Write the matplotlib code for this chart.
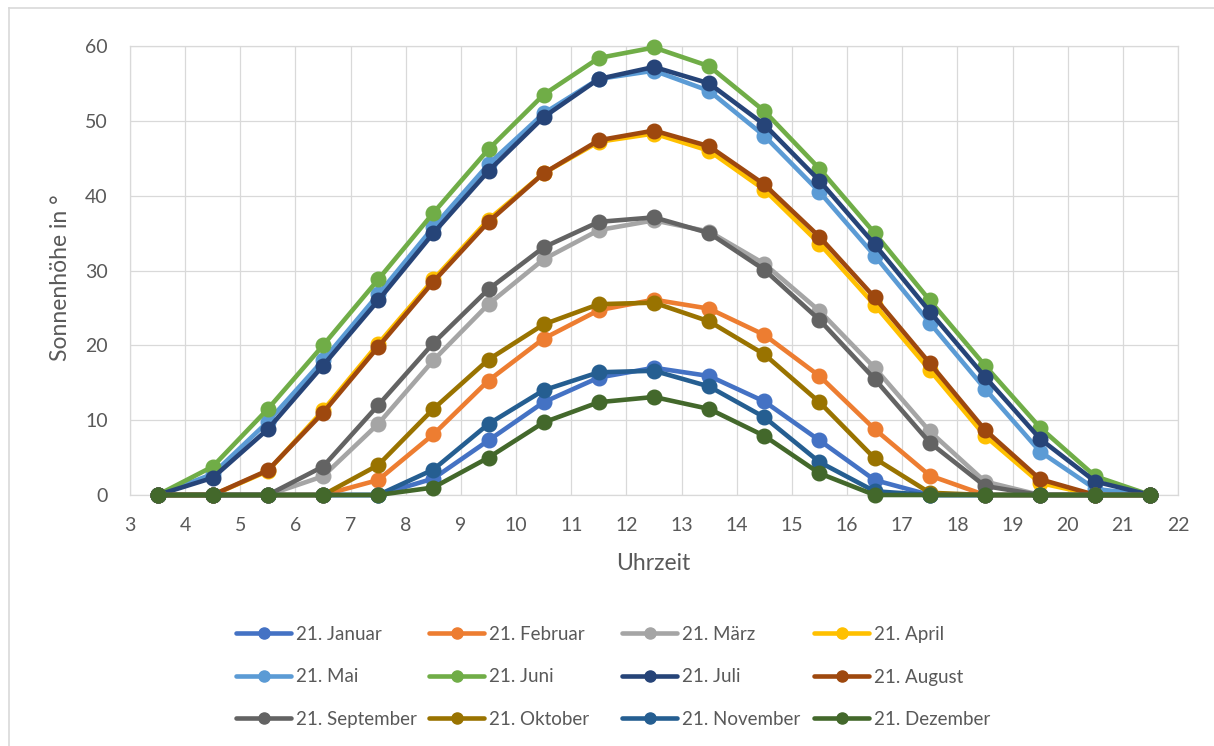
import matplotlib
matplotlib.use("Agg")
import matplotlib.pyplot as plt
from matplotlib.lines import Line2D

plt.rcParams['font.family'] = ['Lato', 'DejaVu Sans']

hours = [3.5, 4.5, 5.5, 6.5, 7.5, 8.5, 9.5, 10.5, 11.5, 12.5, 13.5, 14.5, 15.5, 16.5, 17.5, 18.5, 19.5, 20.5, 21.5]

januar    = [0, 0, 0, 0, 0, 2.2, 7.3, 12.4, 15.7, 17.0, 15.9, 12.5, 7.3, 2.0, 0, 0, 0, 0, 0]
februar   = [0, 0, 0, 0, 2.0, 8.1, 15.3, 20.9, 24.7, 26.1, 24.9, 21.4, 15.9, 8.8, 2.6, 0, 0, 0, 0]
maerz     = [0, 0, 0, 2.5, 9.5, 18.0, 25.5, 31.5, 35.4, 36.7, 35.2, 30.9, 24.6, 17.0, 8.5, 1.8, 0, 0, 0]
april     = [0, 0, 3.2, 11.3, 20.2, 28.8, 36.8, 43.0, 47.2, 48.3, 46.0, 40.8, 33.6, 25.4, 16.7, 7.9, 1.6, 0, 0]
mai       = [0, 2.8, 9.8, 18.0, 26.8, 35.8, 44.2, 51.0, 55.6, 56.7, 54.0, 48.0, 40.5, 32.0, 23.0, 14.2, 5.8, 0.8, 0]
juni      = [0, 3.8, 11.5, 20.0, 28.8, 37.7, 46.2, 53.5, 58.4, 59.8, 57.3, 51.3, 43.6, 35.0, 26.0, 17.3, 9.0, 2.5, 0]
juli      = [0, 2.3, 8.8, 17.3, 26.0, 35.0, 43.3, 50.5, 55.6, 57.2, 55.0, 49.5, 42.0, 33.5, 24.5, 15.8, 7.5, 1.8, 0]
august    = [0, 0, 3.3, 11.0, 19.8, 28.5, 36.5, 43.0, 47.4, 48.7, 46.6, 41.5, 34.5, 26.4, 17.6, 8.7, 2.1, 0, 0]
september = [0, 0, 0, 3.8, 12.0, 20.3, 27.5, 33.1, 36.5, 37.1, 35.0, 30.1, 23.4, 15.5, 7.0, 1.2, 0, 0, 0]
oktober   = [0, 0, 0, 0, 4.0, 11.5, 18.1, 22.8, 25.5, 25.7, 23.2, 18.8, 12.4, 4.9, 0.3, 0, 0, 0, 0]
november  = [0, 0, 0, 0, 0, 3.4, 9.5, 14.0, 16.4, 16.6, 14.5, 10.4, 4.4, 0.5, 0, 0, 0, 0, 0]
dezember  = [0, 0, 0, 0, 0, 1.0, 5.0, 9.7, 12.4, 13.1, 11.5, 7.9, 2.9, 0, 0, 0, 0, 0, 0]

labels = ["21. Januar", "21. Februar", "21. März", "21. April", "21. Mai", "21. Juni",
          "21. Juli", "21. August", "21. September", "21. Oktober", "21. November", "21. Dezember"]
series = [januar, februar, maerz, april, mai, juni, juli, august, september, oktober, november, dezember]
colors = ["#4472C4", "#ED7D31", "#A5A5A5", "#FFC000", "#5B9BD5", "#70AD47",
          "#264478", "#9E480E", "#636363", "#997300", "#255E91", "#43682B"]

W, H = 1214, 746
fig = plt.figure(figsize=(W / 100, H / 100), dpi=100)
ax = fig.add_axes([130 / W, 1 - 495 / H, 1048 / W, 449 / H])

for vals, lab, col in zip(series, labels, colors):
    ax.plot(hours, vals, color=col, lw=3.3, marker='o', ms=10.5,
            label=lab, clip_on=False, zorder=3, solid_joinstyle='round')

ax.set_xlim(3, 22)
ax.set_ylim(0, 60)
ax.set_xticks(range(3, 23))
ax.set_yticks(range(0, 61, 10))
ax.grid(True, color="#D9D9D9", lw=0.9, zorder=0)
ax.set_axisbelow(True)
for s in ax.spines.values():
    s.set_color("#D9D9D9")
    s.set_linewidth(0.9)
ax.tick_params(length=0, labelsize=14, colors="#595959")
ax.tick_params(axis='y', pad=16)
ax.tick_params(axis='x', pad=16)

ax.set_xlabel("Uhrzeit", fontsize=16.5, color="#595959")
ax.set_ylabel("Sonnenhöhe in °", fontsize=16.5, color="#595959")
ax.xaxis.set_label_coords(0.499, (495 - 553) / 449)
ax.yaxis.set_label_coords((71 - 130) / 1048, (495 - 278) / 449)

# legend: 4 columns, 3 rows (row-wise order like Excel)
col_x = [236, 429, 622, 814]
for c in range(4):
    hs = [Line2D([], [], color=colors[r * 4 + c], lw=3.3, marker='o', ms=8,
                 solid_capstyle='round') for r in range(3)]
    ls = [labels[r * 4 + c] for r in range(3)]
    fig.legend(hs, ls, loc='upper left',
               bbox_to_anchor=(col_x[c] / W, 1 - 626 / H),
               frameon=False, fontsize=13.5, labelcolor="#595959",
               handlelength=2.95, handletextpad=0.25, labelspacing=1.36,
               borderaxespad=0, borderpad=0)

# chart-area border
fig.add_artist(Line2D([9 / W, 9 / W], [0, 1 - 8 / H], transform=fig.transFigure,
                      color="#D9D9D9", lw=1.2))
fig.add_artist(Line2D([9 / W, 1], [1 - 8 / H, 1 - 8 / H], transform=fig.transFigure,
                      color="#D9D9D9", lw=1.2))

fig.savefig("out.png", dpi=100, facecolor="white")
